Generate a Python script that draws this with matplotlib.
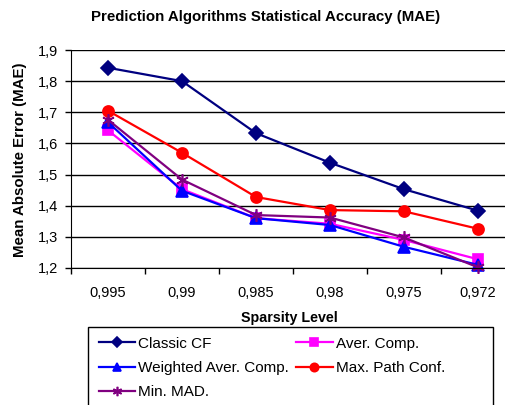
import matplotlib

matplotlib.use("Agg")
import matplotlib.pyplot as plt
from matplotlib.patches import Rectangle
from matplotlib.ticker import FixedLocator, FuncFormatter

plt.rcParams["font.family"] = ["Liberation Sans", "DejaVu Sans"]

sparsity = ["0,995", "0,99", "0,985", "0,98", "0,975", "0,972"]
classic_cf = [1.843, 1.800, 1.633, 1.538, 1.453, 1.384]
aver_comp = [1.642, 1.453, 1.360, 1.342, 1.290, 1.228]
weighted_aver_comp = [1.668, 1.448, 1.360, 1.338, 1.268, 1.210]
max_path_conf = [1.705, 1.570, 1.428, 1.386, 1.382, 1.326]
min_mad = [1.676, 1.484, 1.370, 1.362, 1.298, 1.202]

W, H = 505, 405
fig = plt.figure(figsize=(W / 100, H / 100), dpi=100)
ax = fig.add_axes([71 / W, 1 - 268 / H, (505 - 71) / W, (268 - 50) / H])

x = list(range(len(sparsity)))
series = [
    ("Classic CF", classic_cf, "#000080", "D", 7),
    ("Aver. Comp.", aver_comp, "#FF00FF", "s", 7),
    ("Weighted Aver. Comp.", weighted_aver_comp, "#0000FF", "^", 8),
    ("Max. Path Conf.", max_path_conf, "#FF0000", "o", 8),
    ("Min. MAD.", min_mad, "#800080", (6, 2, 0), 9),
]
handles = {}
for name, vals, color, marker, ms in series:
    (ln,) = ax.plot(x, vals, color=color, lw=1.6, marker=marker, ms=ms,
                    mfc=color, mec=color, mew=1.2, label=name, clip_on=False)
    handles[name] = ln

ax.set_ylim(1.2, 1.9)
ax.set_xlim(-0.5, -0.5 + (505 - 71) / 74.0)
ax.set_yticks([1.2, 1.3, 1.4, 1.5, 1.6, 1.7, 1.8, 1.9])
ax.yaxis.set_major_formatter(FuncFormatter(lambda v, p: f"{v:.1f}".replace(".", ",")))
ax.yaxis.grid(True, color="black", lw=1.0)
ax.set_axisbelow(True)
for s in ("top", "right"):
    ax.spines[s].set_visible(False)
ax.spines["left"].set_color("black")
ax.spines["bottom"].set_color("black")

ax.xaxis.set_major_locator(FixedLocator([i + 0.5 for i in range(-1, 6)]))
ax.xaxis.set_major_formatter(FuncFormatter(lambda v, p: ""))
ax.xaxis.set_minor_locator(FixedLocator(x))
ax.set_xticklabels(sparsity, minor=True)
ax.tick_params(axis="x", which="major", direction="out", length=4, width=1)
ax.tick_params(axis="x", which="minor", length=0, pad=13, labelsize=10.5)
ax.tick_params(axis="y", direction="out", length=4, width=1, pad=5, labelsize=10.5)

fig.text(266 / W, 1 - 17 / H, "Prediction Algorithms Statistical Accuracy (MAE)",
         ha="center", va="center", fontsize=10.8, fontweight="bold")
fig.text(289 / W, 1 - 318 / H, "Sparsity Level", ha="center", va="center",
         fontsize=10.3, fontweight="bold")
fig.text(20 / W, 1 - 160 / H, "Mean Absolute Error (MAE)", ha="center",
         va="center", rotation=90, fontsize=10.8, fontweight="bold")

fig.patches.append(Rectangle((88 / W, -0.05), (493 - 88) / W, 0.05 + 1 - 327 / H,
                             transform=fig.transFigure, fill=False,
                             edgecolor="black", lw=1.0))
order = ["Classic CF", "Weighted Aver. Comp.", "Min. MAD.", "Aver. Comp.", "Max. Path Conf."]
fig.legend([handles[n] for n in order], order, ncol=2, frameon=False,
           loc="upper left", bbox_to_anchor=(88 / W, 1 - 326 / H),
           fontsize=11, handlelength=2.4, handletextpad=0.2,
           columnspacing=0.45, labelspacing=0.68, borderpad=0.2, markerscale=0.75)

fig.savefig("out.png", dpi=100)
